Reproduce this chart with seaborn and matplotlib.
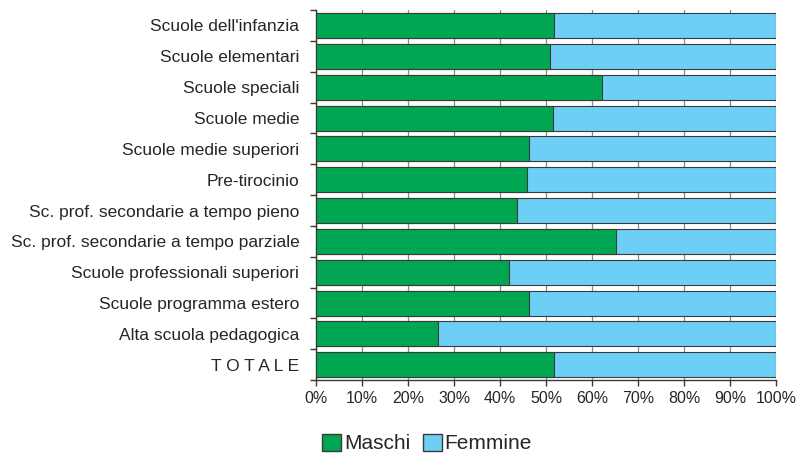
import numpy as np
import pandas as pd
import matplotlib.pyplot as plt
import seaborn as sns
from matplotlib.patches import Patch
from matplotlib.ticker import PercentFormatter

sns.set_style("white")
plt.rcParams['font.family'] = ['Liberation Sans', 'DejaVu Sans']

categories = [
    "Scuole dell'infanzia",
    "Scuole elementari",
    "Scuole speciali",
    "Scuole medie",
    "Scuole medie superiori",
    "Pre-tirocinio",
    "Sc. prof. secondarie a tempo pieno",
    "Sc. prof. secondarie a tempo parziale",
    "Scuole professionali superiori",
    "Scuole programma estero",
    "Alta scuola pedagogica",
    "T O T A L E",
]
maschi = [51.8, 50.8, 62.1, 51.6, 46.2, 45.8, 43.7, 65.1, 41.9, 46.2, 26.5, 51.7]
femmine = [100 - m for m in maschi]

GREEN = "#00a651"
BLUE = "#6dcff6"
EDGE = "#3a3a3a"

df = pd.DataFrame({"cat": categories, "maschi": maschi, "femmine": femmine})
df["totale"] = df["maschi"] + df["femmine"]

fig, ax = plt.subplots(figsize=(8.06, 4.58), dpi=100)
fig.subplots_adjust(left=0.392, right=0.963, top=0.978, bottom=0.170)

# femmine drawn as full stack, maschi on top
sns.barplot(data=df, y="cat", x="totale", color=BLUE, edgecolor=EDGE,
            linewidth=0.8, width=0.81, saturation=1, ax=ax, zorder=3)
sns.barplot(data=df, y="cat", x="maschi", color=GREEN, edgecolor=EDGE,
            linewidth=0.8, width=0.81, saturation=1, ax=ax, zorder=4)

ax.set_xlim(0, 100)
ax.set_ylim(len(categories) - 0.5, -0.5)
ax.set_xticks(np.arange(0, 101, 10))
ax.xaxis.set_major_formatter(PercentFormatter(decimals=0))
ax.set_xlabel("")
ax.set_ylabel("")

ax.grid(axis="x", color="#8a8a8a", linewidth=0.9, zorder=0)
ax.set_axisbelow(True)

for side in ["top", "right"]:
    ax.spines[side].set_visible(False)
for side in ["left", "bottom"]:
    ax.spines[side].set_color(EDGE)
    ax.spines[side].set_linewidth(1.0)

ax.tick_params(axis="x", which="major", direction="out", length=4, width=1,
               color=EDGE, labelsize=11.5, pad=4, bottom=True)
ax.tick_params(axis="y", which="major", length=0, labelsize=12.5, pad=12)
ax.set_yticks(np.arange(-0.5, len(categories), 1), minor=True)
ax.tick_params(axis="y", which="minor", direction="out", length=4, width=1,
               color=EDGE, left=True)

handles = [Patch(facecolor=GREEN, edgecolor=EDGE, label="Maschi"),
           Patch(facecolor=BLUE, edgecolor=EDGE, label="Femmine")]
fig.legend(handles=handles, loc="lower center", bbox_to_anchor=(0.53, -0.022),
           ncol=2, frameon=False, fontsize=15, handlelength=0.9,
           handleheight=0.9, handletextpad=0.15, columnspacing=0.6,
           borderpad=0.2)

fig.savefig("out.png", dpi=100)
